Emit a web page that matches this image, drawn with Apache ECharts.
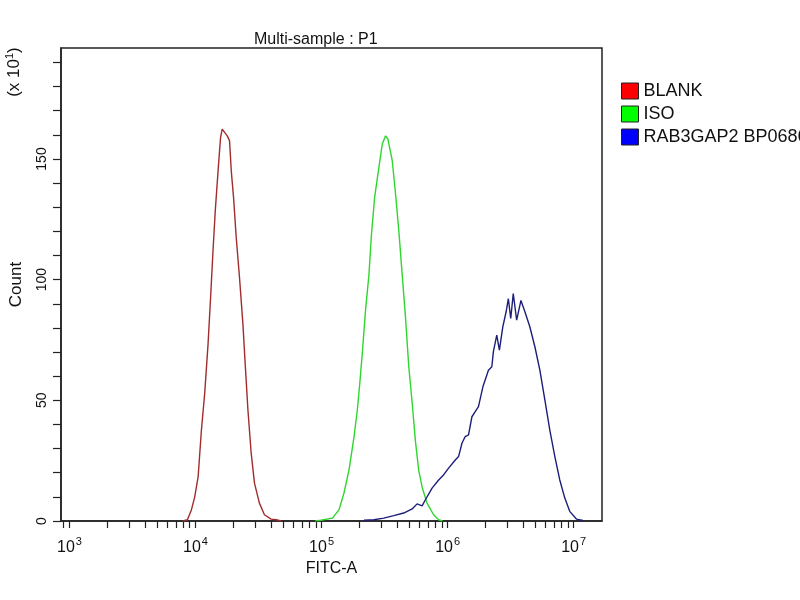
<!DOCTYPE html>
<html>
<head>
<meta charset="utf-8">
<script src="https://cdn.jsdelivr.net/npm/echarts@6/dist/echarts.min.js"></script>
<style>
  html, body { margin: 0; padding: 0; background: #fff; }
  #chart { width: 800px; height: 600px; }
</style>
</head>
<body>
<div id="chart"></div>
<script>
// x values are log10(FITC-A), y values are Count (x10^1)
const blankX = [3.90, 3.936, 3.968, 3.994, 4.021, 4.047, 4.073, 4.100, 4.120, 4.139, 4.157, 4.179, 4.199, 4.212, 4.226, 4.252, 4.270, 4.284, 4.302, 4.323, 4.349, 4.376, 4.394, 4.416, 4.442, 4.468, 4.507, 4.547, 4.600, 4.64, 4.68];
const blankY = [0, 0.5, 4.7, 10, 18.4, 37.7, 52.9, 73.6, 92.8, 112, 128.6, 145, 159, 162.4, 162.4, 159.6, 157.6, 145, 134, 117.6, 101, 81.8, 65.3, 46, 28, 15.7, 7.4, 2.6, 0.8, 0.5, 0];

const isoX = [4.95, 4.994, 5.087, 5.139, 5.178, 5.218, 5.258, 5.284, 5.305, 5.324, 5.350, 5.376, 5.395, 5.421, 5.455, 5.482, 5.508, 5.526, 5.561, 5.587, 5.613, 5.640, 5.666, 5.692, 5.719, 5.745, 5.771, 5.798, 5.837, 5.889, 5.929, 5.96];
const isoY = [0, 0.3, 1.2, 4.7, 11.6, 21.2, 35, 46, 58, 70, 88, 102, 118, 134, 146.5, 156.2, 159.6, 158.3, 149.3, 135.5, 120.4, 102, 84.5, 64, 49, 33, 21, 14, 7.4, 2.6, 0.5, 0];

const rabX = [5.337, 5.415, 5.494, 5.573, 5.652, 5.719, 5.758, 5.798, 5.824, 5.877, 5.929, 5.968, 6.008, 6.061, 6.087, 6.114, 6.140, 6.166, 6.193, 6.219, 6.245, 6.280, 6.298, 6.324, 6.351, 6.363, 6.390, 6.411, 6.438, 6.464, 6.482, 6.501, 6.521, 6.548, 6.582, 6.614, 6.653, 6.693, 6.732, 6.772, 6.811, 6.851, 6.890, 6.930, 6.969, 7.022, 7.074];
const rabY = [0.3, 0.5, 1.2, 2.2, 3.3, 5, 7.1, 6.3, 8.8, 13.6, 17, 19.1, 21.9, 25.3, 26.7, 32.2, 35, 35.7, 43.2, 45.3, 47.4, 55.6, 58.4, 62.5, 63.9, 70.1, 77, 70.8, 80.4, 86.6, 92.1, 83.9, 94.2, 83.2, 91.4, 86.6, 80.4, 72.1, 62.5, 50.1, 37.7, 26.7, 17, 9.5, 4, 0.8, 0.2];

const seriesNames = ['BLANK', 'ISO', 'RAB3GAP2 BP0686'];
const lineColors = ['#a02c2c', '#2ed62e', '#1e1e7a'];
const legendColors = ['#ff0000', '#00ff00', '#0000ff'];

const xDecades = [3, 4, 5, 6, 7];
const yLabelValues = [0, 50, 100, 150];
const yTickValues = [0, 10, 20, 30, 40, 50, 60, 70, 80, 90, 100, 110, 120, 130, 140, 150, 160, 170, 180, 190];
const xMin = 2.933, xMax = 7.225;

const xTickValues = [];
for (let e = 2; e <= 7; e++) {
  for (let m = 1; m <= 9; m++) {
    const v = e + Math.log10(m);
    if (v >= xMin && v <= xMax) xTickValues.push(v);
  }
}

const zip = (xs, ys) => xs.map((x, i) => [x, ys[i]]);
const dataSets = [zip(blankX, blankY), zip(isoX, isoY), zip(rabX, rabY)];

const FONT = 'Arial, "Liberation Sans", sans-serif';
const chart = echarts.init(document.getElementById('chart'), null, { renderer: 'canvas' });

chart.setOption({
  animation: false,
  backgroundColor: '#fff',
  textStyle: { fontFamily: FONT },
  title: {
    text: 'Multi-sample : P1',
    left: 249, top: 27,
    textStyle: { fontSize: 16, fontWeight: 'normal', color: '#111', fontFamily: FONT }
  },
  legend: {
    orient: 'vertical',
    left: 616, top: 77,
    icon: 'rect',
    itemWidth: 17, itemHeight: 16, itemGap: 5,
    textStyle: { fontSize: 18, color: '#111', fontFamily: FONT },
    data: seriesNames.map((n, i) => ({
      name: n,
      itemStyle: { color: legendColors[i], borderColor: '#222', borderWidth: 1 }
    }))
  },
  grid: {
    left: 58, right: 198, top: 48, bottom: 79,
    show: true, borderColor: '#222', borderWidth: 1.5, backgroundColor: '#fff'
  },
  xAxis: {
    type: 'value',
    min: xMin, max: xMax,
    name: 'FITC-A',
    nameLocation: 'middle',
    nameGap: 39,
    nameTextStyle: { fontSize: 16, color: '#111', fontFamily: FONT },
    axisLine: { show: true, lineStyle: { color: '#222', width: 1.5 } },
    axisTick: { show: true, inside: false, length: 7, lineStyle: { color: '#222', width: 1.2 }, customValues: xTickValues },
    axisLabel: {
      customValues: xDecades,
      margin: 15,
      color: '#111',
      formatter: v => '{b|10}{s|' + Math.round(v) + '}',
      rich: {
        b: { fontSize: 16, lineHeight: 20, verticalAlign: 'bottom', fontFamily: FONT, color: '#111' },
        s: { fontSize: 11, lineHeight: 20, verticalAlign: 'top', fontFamily: FONT, color: '#111', padding: [0, 0, 0, 1] }
      }
    },
    splitLine: { show: false }
  },
  yAxis: {
    type: 'value',
    min: 0, max: 196,
    name: 'Count',
    nameLocation: 'middle',
    nameGap: 36,
    nameTextStyle: { fontSize: 17, color: '#111', fontFamily: FONT },
    axisLine: { show: true, lineStyle: { color: '#222', width: 1.5 } },
    axisTick: { show: true, inside: false, length: 8, lineStyle: { color: '#222', width: 1.2 }, customValues: yTickValues },
    axisLabel: {
      customValues: yLabelValues,
      rotate: 90,
      margin: 12,
      fontSize: 14,
      color: '#111',
      fontFamily: FONT
    },
    splitLine: { show: false }
  },
  graphic: [{
    type: 'text',
    x: 14, y: 72,
    rotation: Math.PI / 2,
    style: {
      text: '(x 10{s|1})',
      font: '17px ' + FONT,
      fill: '#111',
      align: 'center',
      verticalAlign: 'middle',
      rich: { s: { fontSize: 11, verticalAlign: 'top', lineHeight: 20, fill: '#111' } }
    }
  }],
  series: seriesNames.map((n, i) => ({
    name: n,
    type: 'line',
    data: dataSets[i],
    showSymbol: false,
    symbol: 'none',
    lineStyle: { color: lineColors[i], width: 1.4 },
    itemStyle: { color: lineColors[i] },
    emphasis: { disabled: true }
  }))
});
</script>
</body>
</html>
